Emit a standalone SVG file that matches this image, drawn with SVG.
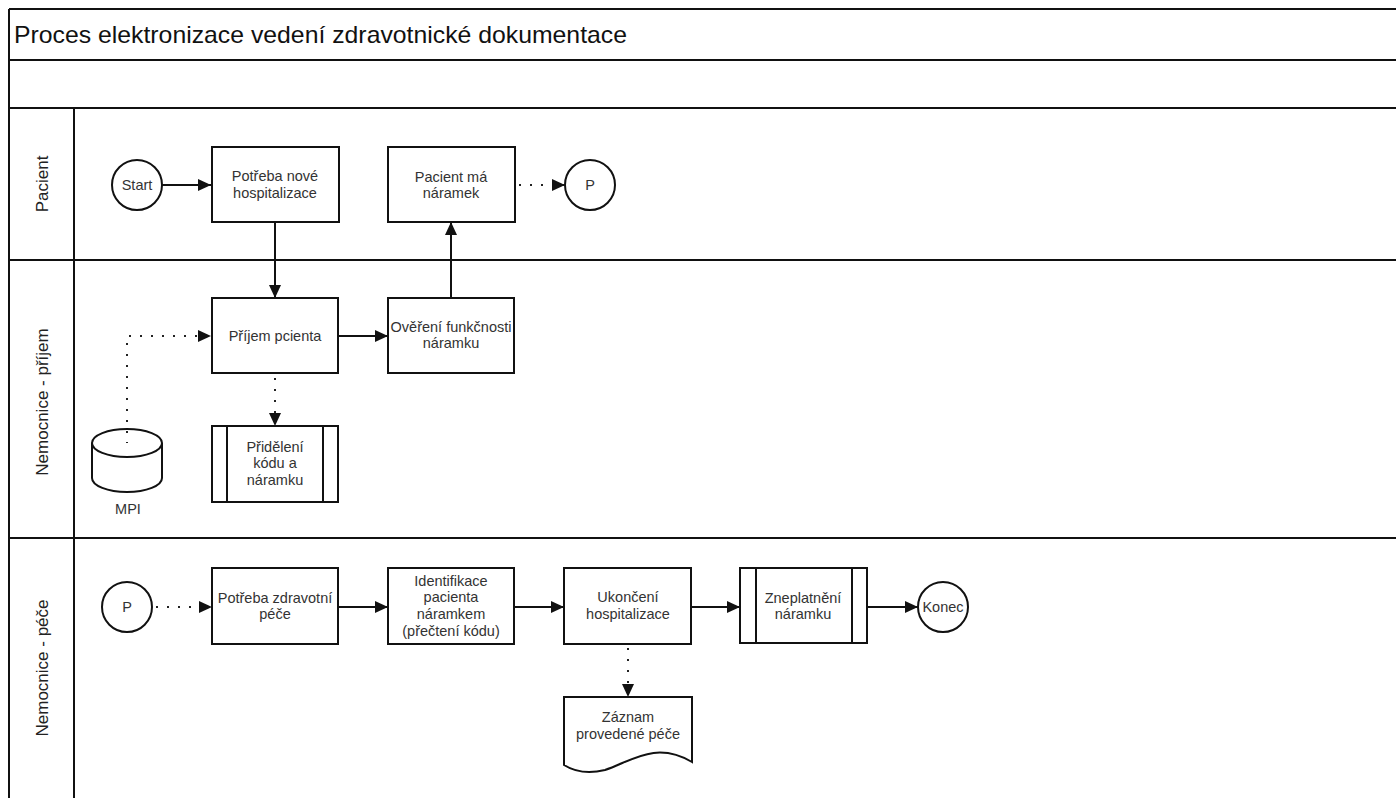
<svg xmlns="http://www.w3.org/2000/svg" width="1396" height="798" viewBox="0 0 1396 798">
<style>
  .frame{fill:none;stroke:#111;stroke-width:2}
  .box{fill:#fff;stroke:#111;stroke-width:2}
  .t{font-family:"Liberation Sans",Arial,sans-serif;font-size:14.5px;fill:#333;text-anchor:middle}
  .lane{font-family:"Liberation Sans",Arial,sans-serif;font-size:17px;fill:#222;text-anchor:middle}
  .title{font-family:"Liberation Sans",Arial,sans-serif;font-size:24px;fill:#111}
  .solid{fill:none;stroke:#111;stroke-width:2;marker-end:url(#arr)}
  .dot{fill:none;stroke:#222;stroke-width:2;stroke-dasharray:2 9;stroke-linecap:butt;marker-end:url(#arr)}
</style>
<defs>
  <marker id="arr" markerUnits="userSpaceOnUse" markerWidth="13" markerHeight="13" refX="13" refY="6.5" orient="auto">
    <path d="M0,0.5 L13,6.5 L0,12.5 z" fill="#111"/>
  </marker>
</defs>
<rect x="0" y="0" width="1396" height="798" fill="#fff"/>

<g id="pool">
  <path class="frame" d="M9,9 H1400 M9,9 V800 M9,60 H1400 M9,108 H1400 M74,108 V800 M9,260 H1400 M9,538 H1400"/>
  <text class="title" x="14" y="43" textLength="613" lengthAdjust="spacingAndGlyphs">Proces elektronizace vedení zdravotnické dokumentace</text>
  <text class="lane" transform="translate(48,184) rotate(-90)">Pacient</text>
  <text class="lane" transform="translate(48,402) rotate(-90)">Nemocnice - příjem</text>
  <text class="lane" transform="translate(48,668) rotate(-90)">Nemocnice - péče</text>
</g>

<g id="connectors">
  <path class="solid" d="M162,185 H211"/>
  <path class="solid" d="M275,222 V298"/>
  <path class="solid" d="M338,336 H388"/>
  <path class="solid" d="M451,298 V222"/>
  <path class="dot" d="M519,185 H565"/>
  <path class="dot" d="M127,444 V336 H211"/>
  <path class="dot" d="M275,378 V426"/>
  <path class="dot" d="M156,607 H212"/>
  <path class="solid" d="M338,607 H388"/>
  <path class="solid" d="M514,607 H564"/>
  <path class="solid" d="M691,607 H740"/>
  <path class="solid" d="M867,607 H918"/>
  <path class="dot" d="M628,648 V697"/>
</g>

<g id="start">
  <circle class="box" cx="137" cy="185" r="25"/>
  <text class="t" x="137" y="190">Start</text>
</g>
<g id="potreba-nove">
  <rect class="box" x="212" y="147" width="127" height="75"/>
  <text class="t" x="275" y="181">Potřeba nové</text>
  <text class="t" x="275" y="198">hospitalizace</text>
</g>
<g id="pacient-ma">
  <rect class="box" x="388" y="147" width="127" height="75"/>
  <text class="t" x="451" y="182">Pacient má</text>
  <text class="t" x="451" y="198">náramek</text>
</g>
<g id="p1">
  <circle class="box" cx="590" cy="185" r="25"/>
  <text class="t" x="590" y="190">P</text>
</g>
<g id="prijem">
  <rect class="box" x="212" y="298" width="126" height="75"/>
  <text class="t" x="275" y="341">Příjem pcienta</text>
</g>
<g id="overeni">
  <rect class="box" x="388" y="298" width="126" height="75"/>
  <text class="t" x="451" y="332">Ověření funkčnosti</text>
  <text class="t" x="451" y="348">náramku</text>
</g>
<g id="prideleni">
  <rect class="box" x="212" y="426" width="126" height="76"/>
  <path class="frame" d="M227,426 V502 M323,426 V502"/>
  <text class="t" x="275" y="452">Přidělení</text>
  <text class="t" x="275" y="468">kódu a</text>
  <text class="t" x="275" y="485">náramku</text>
</g>
<g id="mpi">
  <path class="box" d="M92,443 V478 A35,14 0 0 0 162,478 V443"/>
  <ellipse class="frame" cx="127" cy="443" rx="35" ry="14"/>
  <text class="t" x="128" y="514">MPI</text>
</g>
<g id="p2">
  <circle class="box" cx="127" cy="607" r="25"/>
  <text class="t" x="127" y="612">P</text>
</g>
<g id="potreba-zdrav">
  <rect class="box" x="212" y="568" width="126" height="76"/>
  <text class="t" x="275" y="603">Potřeba zdravotní</text>
  <text class="t" x="275" y="619">péče</text>
</g>
<g id="identifikace">
  <rect class="box" x="388" y="568" width="126" height="76"/>
  <text class="t" x="451" y="586">Identifikace</text>
  <text class="t" x="451" y="602">pacienta</text>
  <text class="t" x="451" y="619">náramkem</text>
  <text class="t" x="451" y="636">(přečtení kódu)</text>
</g>
<g id="ukonceni">
  <rect class="box" x="564" y="568" width="127" height="76"/>
  <text class="t" x="628" y="602">Ukončení</text>
  <text class="t" x="628" y="619">hospitalizace</text>
</g>
<g id="zneplatneni">
  <rect class="box" x="740" y="568" width="127" height="75"/>
  <path class="frame" d="M756,568 V643 M852,568 V643"/>
  <text class="t" x="803" y="603">Zneplatnění</text>
  <text class="t" x="803" y="619">náramku</text>
</g>
<g id="konec">
  <circle class="box" cx="943" cy="607" r="25"/>
  <text class="t" x="943" y="612">Konec</text>
</g>
<g id="zaznam">
  <path class="box" d="M564,697 H692 V762 C655,740 630,762 605,770 C585,775 572,770 564,765 Z"/>
  <text class="t" x="628" y="722">Záznam</text>
  <text class="t" x="628" y="739">provedené péče</text>
</g>
</svg>
